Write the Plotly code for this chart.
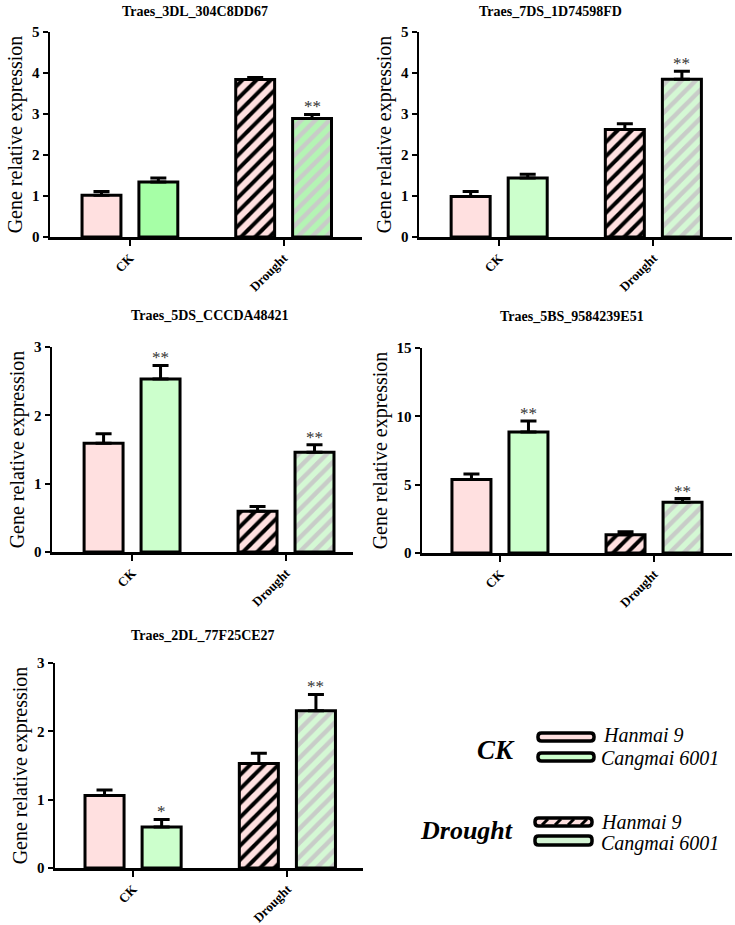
import plotly.graph_objects as go

W, H = 735, 925

groups = ["CK", "Drought"]
titles = ["Traes_3DL_304C8DD67", "Traes_7DS_1D74598FD", "Traes_5DS_CCCDA48421",
          "Traes_5BS_9584239E51", "Traes_2DL_77F25CE27"]
hanmai = [[1.02, 3.84], [0.99, 2.62], [1.59, 0.595], [5.37, 1.34], [1.06, 1.53]]
hanmai_err = [[0.09, 0.05], [0.12, 0.14], [0.14, 0.07], [0.41, 0.22], [0.08, 0.15]]
cangmai = [[1.34, 2.89], [1.44, 3.85], [2.53, 1.46], [8.85, 3.71], [0.60, 2.30]]
cangmai_err = [[0.10, 0.10], [0.09, 0.19], [0.20, 0.11], [0.80, 0.27], [0.11, 0.24]]
signif = [["", "**"], ["", "**"], ["**", "**"], ["**", "**"], ["*", "**"]]
ymax = [5, 5, 3, 15, 3]
ydtick = [1, 1, 1, 5, 1]

PINK = "#FFE0E0"
GREEN = ["#A6FFA6", "#CCFFCC", "#CCFFCC", "#CCFFCC", "#CCFFCC"]
GREEN_D = ["#B4F4B4", "#D4F8D4", "#D4F8D4", "#D4F8D4", "#D4F8D4"]
SERIF = "Liberation Serif"

boxes = [(50, 362, 32, 237, [-0.52, 1.51]),
         (419, 732, 32, 237, [-0.52, 1.51]),
         (52, 353, 347, 552, [-0.52, 1.435]),
         (422, 732, 348, 553, [-0.506, 1.506]),
         (55, 363, 663, 868, [-0.506, 1.49])]
title_pos = [(195, 12), (550, 12), (210, 315), (572, 316), (203, 635)]

fig = go.Figure()
annotations = []
shapes = []

def px2x(p):
    return p / W

def py2y(p):
    return 1 - p / H

for i in range(5):
    xa = "x" if i == 0 else f"x{i+1}"
    ya = "y" if i == 0 else f"y{i+1}"
    fig.add_trace(go.Bar(
        x=groups, y=hanmai[i], xaxis=xa, yaxis=ya, name="Hanmai 9", showlegend=False,
        marker=dict(color=PINK, line=dict(color="black", width=3),
                    pattern=dict(shape=["", "/"], fillmode="replace", bgcolor=PINK,
                                 fgcolor="black", fgopacity=1, size=10, solidity=0.4)),
        error_y=dict(type="data", array=hanmai_err[i], arrayminus=[0, 0], symmetric=False,
                     color="black", thickness=3, width=8),
    ))
    fig.add_trace(go.Bar(
        x=groups, y=cangmai[i], xaxis=xa, yaxis=ya, name="Cangmai 6001", showlegend=False,
        marker=dict(color=GREEN[i], line=dict(color="black", width=3),
                    pattern=dict(shape=["", "/"], fillmode="replace", bgcolor=GREEN_D[i],
                                 fgcolor="#C8CCC8", fgopacity=1, size=10, solidity=0.45)),
        error_y=dict(type="data", array=cangmai_err[i], arrayminus=[0, 0], symmetric=False,
                     color="black", thickness=3, width=8),
    ))
    l, r, t, b, xr = boxes[i]
    xkey = "xaxis" if i == 0 else f"xaxis{i+1}"
    ykey = "yaxis" if i == 0 else f"yaxis{i+1}"
    fig.layout[xkey] = dict(
        domain=[px2x(l), px2x(r)], anchor=ya, range=xr, type="category", automargin=False,
        showline=True, linecolor="black", linewidth=2.5, ticks="outside", ticklen=6,
        tickwidth=2, tickcolor="black", tickangle=-45, showgrid=False,
        tickfont=dict(family=SERIF, size=13, color="black", weight="bold"))
    fig.layout[ykey] = dict(
        domain=[py2y(b), py2y(t)], anchor=xa, range=[0, ymax[i]], dtick=ydtick[i],
        automargin=False,
        showline=True, linecolor="black", linewidth=2.5, ticks="outside", ticklen=5,
        tickwidth=2, tickcolor="black", showgrid=False, zeroline=False,
        tickfont=dict(family=SERIF, size=15, color="black", weight="bold"),
        title=dict(text="Gene relative expression", standoff=4,
                   font=dict(family=SERIF, size=20, color="black")))
    tx, ty = title_pos[i]
    annotations.append(dict(x=px2x(tx), y=py2y(ty), xref="paper", yref="paper",
                            xanchor="center", yanchor="middle",
                            text=f"<b>{titles[i]}</b>", showarrow=False,
                            font=dict(family=SERIF, size=14, color="black")))
    for g in range(2):
        s = signif[i][g]
        if s:
            annotations.append(dict(x=g + 0.185, y=cangmai[i][g] + cangmai_err[i][g],
                                    xref=xa, yref=ya, text=s, showarrow=False,
                                    xanchor="center", yanchor="bottom", yshift=-4,
                                    font=dict(family=SERIF, size=17, color="#333")))

def key_rect(x0, x1, y0, y1, fill):
    # rounded key box drawn as a path (quadratic corners)
    r = 3.5
    pts = []
    X = lambda v: px2x(v)
    Y = lambda v: py2y(v)
    path = (f"M {X(x0 + r)},{Y(y0)} L {X(x1 - r)},{Y(y0)} "
            f"Q {X(x1)},{Y(y0)} {X(x1)},{Y(y0 + r)} L {X(x1)},{Y(y1 - r)} "
            f"Q {X(x1)},{Y(y1)} {X(x1 - r)},{Y(y1)} L {X(x0 + r)},{Y(y1)} "
            f"Q {X(x0)},{Y(y1)} {X(x0)},{Y(y1 - r)} L {X(x0)},{Y(y0 + r)} "
            f"Q {X(x0)},{Y(y0)} {X(x0 + r)},{Y(y0)} Z")
    shapes.append(dict(type="path", xref="paper", yref="paper", path=path,
                       fillcolor=fill, line=dict(color="black", width=3.5)))

key_rect(538, 594, 733, 741, PINK)
key_rect(538, 594, 753, 761, "#CCFFCC")
key_rect(535, 592, 818, 826, PINK)
key_rect(535, 592, 836, 845, "#D4F4D4")
for sx in [547, 560, 573, 586]:
    shapes.append(dict(type="line", xref="paper", yref="paper",
                       x0=px2x(sx - 5), x1=px2x(sx + 1), y0=py2y(825), y1=py2y(819),
                       line=dict(color="black", width=3)))

def lab(x, y, text, size, anchor):
    annotations.append(dict(x=px2x(x), y=py2y(y), xref="paper", yref="paper",
                            xanchor=anchor, yanchor="middle", text=text, showarrow=False,
                            font=dict(family=SERIF, size=size, color="black")))

lab(517, 750, "<b><i>CK</i></b>", 27, "right")
lab(515, 830, "<b><i>Drought</i></b>", 26, "right")
lab(601, 735, "<i>Hanmai 9</i>", 20, "left")
lab(599, 758, "<i>Cangmai 6001</i>", 20, "left")
lab(599, 822, "<i>Hanmai 9</i>", 20, "left")
lab(599, 843, "<i>Cangmai 6001</i>", 20, "left")

fig.update_layout(
    width=W, height=H, margin=dict(l=0, r=0, t=0, b=0, pad=0, autoexpand=False),
    paper_bgcolor="white", plot_bgcolor="white",
    barmode="group", bargap=0.26, bargroupgap=0.316,
    showlegend=False, annotations=annotations, shapes=shapes,
    font=dict(family=SERIF, color="black"),
)

fig.write_html("out.html", config={"displayModeBar": False, "staticPlot": True},
               post_script="document.body.style.margin='0px';")
